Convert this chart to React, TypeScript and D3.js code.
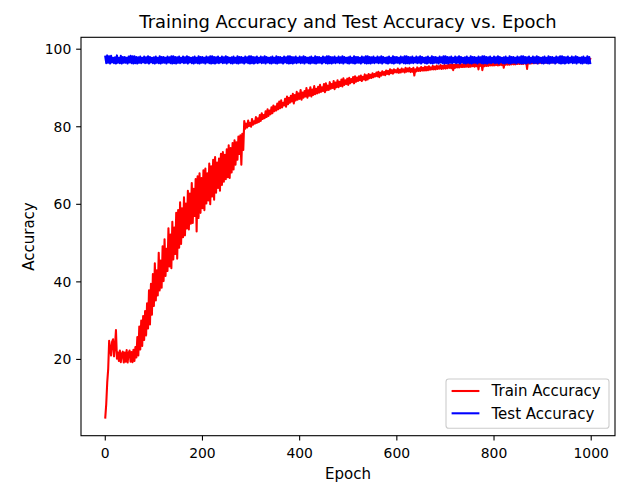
import React from "react";
import * as d3 from "d3";

const EPOCH_STEP = 2;

const trainAccuracy: number[] = [
  5.0, 8.5, 14.0, 17.5, 24.8, 23.0, 21.0, 24.5, 25.2, 20.8,
  23.5, 27.6, 20.2, 21.8, 19.6, 22.3, 19.3, 21.5, 22.0, 19.2,
  21.8, 19.4, 22.4, 19.2, 21.6, 22.3, 19.4, 21.9, 19.3, 22.5,
  19.6, 23.2, 20.5, 25.8, 21.0, 28.5, 22.6, 30.0, 23.5, 31.2,
  25.0, 32.5, 26.2, 34.5, 28.0, 37.8, 29.0, 39.5, 31.5, 42.0,
  33.8, 44.8, 35.2, 43.0, 36.5, 47.5, 37.8, 45.5, 38.5, 49.2,
  40.2, 51.0, 41.5, 48.5, 42.8, 53.8, 44.0, 52.2, 43.5, 55.5,
  45.8, 54.0, 47.2, 57.8, 46.0, 58.5, 48.8, 60.5, 49.8, 59.0,
  51.5, 61.8, 52.0, 60.2, 53.8, 63.5, 53.5, 62.8, 55.0, 65.5,
  55.2, 64.0, 57.0, 66.5, 53.0, 67.2, 56.5, 68.0, 57.8, 66.8,
  59.0, 68.8, 58.5, 69.2, 60.2, 68.0, 61.0, 70.5, 60.0, 69.8,
  62.0, 71.5, 61.2, 72.2, 63.0, 70.8, 64.2, 71.8, 63.5, 73.0,
  65.0, 73.5, 65.8, 72.8, 66.5, 74.2, 67.0, 75.2, 66.8, 74.5,
  68.2, 75.8, 69.0, 76.5, 70.2, 76.0, 71.5, 77.5, 73.0, 77.8,
  70.2, 78.2, 74.0, 81.5, 79.5, 80.8, 79.8, 81.6, 80.2, 81.0,
  80.0, 82.0, 80.5, 81.4, 80.8, 82.5, 81.0, 82.2, 81.2, 83.0,
  81.5, 83.5, 82.0, 83.0, 82.2, 84.0, 82.5, 84.5, 82.8, 84.2,
  83.2, 85.0, 83.5, 85.5, 84.0, 85.2, 84.2, 86.0, 84.5, 86.5,
  84.8, 86.8, 85.0, 86.2, 85.5, 87.2, 85.2, 87.8, 85.8, 87.5,
  86.2, 88.0, 86.5, 88.5, 86.0, 88.2, 86.8, 89.0, 87.0, 88.6,
  87.2, 89.5, 87.0, 88.8, 87.5, 89.2, 87.8, 90.0, 87.5, 89.4,
  88.0, 90.2, 87.8, 89.6, 88.2, 90.5, 88.4, 89.8, 88.6, 90.3,
  88.8, 90.8, 89.0, 90.2, 89.2, 91.0, 88.9, 91.2, 89.4, 90.6,
  89.5, 91.5, 89.8, 91.0, 90.0, 91.8, 89.7, 91.4, 90.2, 92.0,
  90.2, 91.6, 90.5, 92.2, 90.4, 92.5, 90.8, 92.0, 91.0, 92.4,
  90.8, 92.6, 91.2, 92.3, 91.5, 92.8, 91.2, 93.0, 91.6, 92.7,
  91.8, 93.0, 92.0, 93.2, 91.8, 92.9, 92.2, 93.5, 92.0, 93.3,
  92.2, 93.6, 92.5, 93.4, 92.6, 93.8, 92.8, 93.6, 93.0, 94.0,
  93.0, 94.2, 92.8, 93.9, 93.2, 94.3, 93.4, 94.1, 93.3, 94.5,
  93.6, 94.4, 93.5, 94.8, 93.8, 94.6, 93.7, 94.8, 94.0, 94.6,
  94.0, 95.0, 93.9, 94.7, 94.0, 95.0, 94.2, 94.8, 94.0, 95.2,
  94.2, 95.0, 94.3, 95.2, 94.1, 94.9, 94.2, 95.2, 93.2, 94.8,
  94.3, 95.3, 94.4, 95.1, 94.4, 95.4, 94.5, 95.2, 94.5, 95.5,
  94.5, 95.4, 94.6, 95.6, 94.7, 95.3, 94.8, 95.7, 94.8, 95.5,
  94.8, 95.8, 94.9, 95.6, 95.0, 95.9, 94.9, 95.7, 95.0, 96.0,
  95.0, 95.8, 95.1, 96.1, 95.2, 96.0, 95.1, 96.2, 94.6, 96.0,
  95.2, 96.2, 95.3, 96.0, 95.3, 96.3, 95.4, 96.1, 95.4, 96.4,
  95.4, 96.2, 95.5, 96.4, 95.4, 96.5, 95.5, 96.3, 95.6, 96.5,
  95.5, 96.4, 95.6, 96.6, 94.8, 96.5, 95.7, 96.6, 94.6, 96.4,
  95.6, 96.7, 95.7, 96.5, 95.7, 96.7, 95.8, 96.6, 95.8, 96.8,
  95.8, 96.6, 95.9, 96.8, 95.8, 96.7, 95.9, 96.9, 95.9, 96.7,
  95.2, 96.9, 96.0, 96.8, 96.0, 97.0, 96.0, 96.8, 96.1, 97.0,
  96.1, 96.9, 96.1, 97.0, 96.2, 96.9, 96.2, 97.1, 96.2, 97.0,
  96.2, 97.1, 96.3, 97.0, 94.9, 97.1, 96.3, 97.0, 96.3, 97.2,
  96.4, 97.1, 96.4, 97.2, 96.4, 97.1, 96.4, 97.2, 96.5, 97.3,
  96.5, 97.2, 96.5, 97.3, 96.5, 97.2, 96.6, 97.3, 96.6, 97.4,
  96.6, 97.3, 96.6, 97.4, 96.6, 97.3, 96.7, 97.4, 96.7, 97.5,
  96.7, 97.4, 96.7, 97.5, 96.7, 97.4, 96.8, 97.5, 96.8, 97.5,
  96.8, 97.5, 96.8, 97.4, 96.8, 97.5, 96.9, 97.5, 96.9, 97.6,
  96.9, 97.5, 96.9, 97.6, 97.0, 97.5, 97.0, 97.6, 97.0, 97.5,
];

const testAccuracy: number[] = [
  98.1, 96.4, 98.4, 96.5, 98.2, 96.3, 98.3, 96.6, 97.8, 96.4,
  97.9, 96.3, 98.4, 96.5, 97.8, 96.4, 98.3, 96.3, 98.0, 96.5,
  98.0, 96.5, 97.8, 96.3, 98.1, 96.6, 98.3, 96.4, 98.2, 96.3,
  98.2, 96.4, 98.0, 96.3, 97.9, 96.5, 98.1, 96.4, 97.8, 96.6,
  98.1, 96.4, 97.9, 96.5, 98.2, 96.3, 98.0, 96.6, 97.8, 96.4,
  97.9, 96.3, 98.1, 96.5, 97.8, 96.4, 98.2, 96.3, 98.0, 96.5,
  98.0, 96.5, 97.8, 96.3, 98.1, 96.6, 97.9, 96.4, 98.2, 96.3,
  98.2, 96.4, 98.0, 96.3, 97.9, 96.5, 98.1, 96.4, 97.8, 96.6,
  98.1, 96.4, 97.9, 96.5, 98.2, 96.3, 98.0, 96.6, 97.8, 96.4,
  97.9, 96.3, 98.1, 96.5, 97.8, 96.4, 98.2, 96.3, 98.0, 96.5,
  98.0, 96.5, 97.8, 96.3, 98.1, 96.6, 97.9, 96.4, 98.2, 96.3,
  98.2, 96.4, 98.0, 96.3, 97.9, 96.5, 98.1, 96.4, 97.8, 96.6,
  98.1, 96.4, 97.9, 96.5, 98.2, 96.3, 98.0, 96.6, 97.8, 96.4,
  97.9, 96.3, 98.1, 96.5, 97.8, 96.4, 98.2, 96.3, 98.0, 96.5,
  98.0, 96.5, 97.8, 96.3, 98.1, 96.6, 97.9, 96.4, 98.2, 96.3,
  98.2, 96.4, 98.0, 96.3, 97.9, 96.5, 98.1, 96.4, 97.8, 96.6,
  98.1, 96.4, 97.9, 96.5, 98.2, 96.3, 98.0, 96.6, 97.8, 96.4,
  97.9, 96.3, 98.1, 96.5, 97.8, 96.4, 98.2, 96.3, 98.0, 96.5,
  98.0, 96.5, 97.8, 96.3, 98.1, 96.6, 97.9, 96.4, 98.2, 96.3,
  98.2, 96.4, 98.0, 96.3, 97.9, 96.5, 98.1, 96.4, 97.8, 96.6,
  98.1, 96.4, 97.9, 96.5, 98.2, 96.3, 98.0, 96.6, 97.8, 96.4,
  97.9, 96.3, 98.1, 96.5, 97.8, 96.4, 98.2, 96.3, 98.0, 96.5,
  98.0, 96.5, 97.8, 96.3, 98.1, 96.6, 97.9, 96.4, 98.2, 96.3,
  98.2, 96.4, 98.0, 96.3, 97.9, 96.5, 98.1, 96.4, 97.8, 96.6,
  98.1, 96.4, 97.9, 96.5, 98.2, 96.3, 98.0, 96.6, 97.8, 96.4,
  97.9, 96.3, 98.1, 96.5, 97.8, 96.4, 98.2, 96.3, 98.0, 96.5,
  98.0, 96.5, 97.8, 96.3, 98.1, 96.6, 97.9, 96.4, 98.2, 96.3,
  98.2, 96.4, 98.0, 96.3, 97.9, 96.5, 98.1, 96.4, 97.8, 96.6,
  98.1, 96.4, 97.9, 96.5, 98.2, 96.3, 98.0, 96.6, 97.8, 96.4,
  97.9, 96.3, 98.1, 96.5, 97.8, 96.4, 98.2, 96.3, 98.0, 96.5,
  98.0, 96.5, 97.8, 96.3, 98.1, 96.6, 97.9, 96.4, 98.2, 96.3,
  98.2, 96.4, 98.0, 96.3, 97.9, 96.5, 98.1, 96.4, 97.8, 96.6,
  98.1, 96.4, 97.9, 96.5, 98.2, 96.3, 98.0, 96.6, 97.8, 96.4,
  97.9, 96.3, 98.1, 96.5, 97.8, 96.4, 98.2, 96.3, 98.0, 96.5,
  98.0, 96.5, 97.8, 96.3, 98.1, 96.6, 97.9, 96.4, 98.2, 96.3,
  98.2, 96.4, 98.0, 96.3, 97.9, 96.5, 98.1, 96.4, 97.8, 96.6,
  98.1, 96.4, 97.9, 96.5, 98.2, 96.3, 98.0, 96.6, 97.8, 96.4,
  97.9, 96.3, 98.1, 96.5, 97.8, 96.4, 98.2, 96.3, 98.0, 96.5,
  98.0, 96.5, 97.8, 96.3, 98.1, 96.6, 97.9, 96.4, 98.2, 96.3,
  98.2, 96.4, 98.0, 96.3, 97.9, 96.5, 98.1, 96.4, 97.8, 96.6,
  98.1, 96.4, 97.9, 96.5, 98.2, 96.3, 98.0, 96.6, 97.8, 96.4,
  97.9, 96.3, 98.1, 96.5, 97.8, 96.4, 98.2, 96.3, 98.0, 96.5,
  98.0, 96.5, 97.8, 96.3, 98.1, 96.6, 97.9, 96.4, 98.2, 96.3,
  98.2, 96.4, 98.0, 96.3, 97.9, 96.5, 98.1, 96.4, 97.8, 96.6,
  98.1, 96.4, 97.9, 96.5, 98.2, 96.3, 98.0, 96.6, 97.8, 96.4,
  97.9, 96.3, 98.1, 96.5, 97.8, 96.4, 98.2, 96.3, 98.0, 96.5,
  98.0, 96.5, 97.8, 96.3, 98.1, 96.6, 97.9, 96.4, 98.2, 96.3,
  98.2, 96.4, 98.0, 96.3, 97.9, 96.5, 98.1, 96.4, 97.8, 96.6,
  98.1, 96.4, 97.9, 96.5, 98.2, 96.3, 98.0, 96.6, 97.8, 96.4,
  97.9, 96.3, 98.1, 96.5, 97.8, 96.4, 98.2, 96.3, 98.0, 96.4,
];

const xTicks = [0, 200, 400, 600, 800, 1000];
const yTicks = [20, 40, 60, 80, 100];
const seriesNames = ["Train Accuracy", "Test Accuracy"];
const seriesColors = ["#ff0000", "#0000ff"];

const W = 625;
const H = 484;
const left = 81;
const right = 615;
const top = 37.3;
const bottom = 435.7;
const FONT = "'DejaVu Sans', sans-serif";

export default function App() {
  const lastEpoch = 999;
  const xPad = lastEpoch * 0.05;
  const x = d3.scaleLinear().domain([-xPad, lastEpoch + xPad]).range([left, right]);
  const all = trainAccuracy.concat(testAccuracy);
  const [mn, mx] = d3.extent(all) as [number, number];
  const yPad = (mx - mn) * 0.05;
  const y = d3.scaleLinear().domain([mn - yPad, mx + yPad]).range([bottom, top]);

  const line = d3
    .line<number>()
    .x((_, i) => x(i * EPOCH_STEP))
    .y((d) => y(d));

  const series = [trainAccuracy, testAccuracy];
  const tickLen = 4.86;

  return (
    <div style={{ position: "fixed", left: 0, top: 0 }}>
      <svg width={W} height={H} style={{ display: "block", background: "#fff" }}>
        <rect x={0} y={0} width={W} height={H} fill="#fff" />
        <text x={(left + right) / 2} y={28} textAnchor="middle" fontFamily={FONT} fontSize={17.9} fill="#000">
          Training Accuracy and Test Accuracy vs. Epoch
        </text>
        <defs>
          <clipPath id="plotclip">
            <rect x={left} y={top} width={right - left} height={bottom - top} />
          </clipPath>
        </defs>
        <g clipPath="url(#plotclip)">
          {series.map((s, k) => (
            <path key={k} d={line(s) || ""} fill="none" stroke={seriesColors[k]} strokeWidth={2.08} strokeLinejoin="round" strokeLinecap="square" />
          ))}
        </g>
        <rect x={left} y={top} width={right - left} height={bottom - top} fill="none" stroke="#000" strokeWidth={1.1} />
        {xTicks.map((t) => (
          <g key={"x" + t}>
            <line x1={x(t)} x2={x(t)} y1={bottom} y2={bottom + tickLen} stroke="#000" strokeWidth={1.1} />
            <text x={x(t)} y={458.3} textAnchor="middle" fontFamily={FONT} fontSize={13.9} fill="#000">
              {t}
            </text>
          </g>
        ))}
        {yTicks.map((t) => (
          <g key={"y" + t}>
            <line x1={left - tickLen} x2={left} y1={y(t)} y2={y(t)} stroke="#000" strokeWidth={1.1} />
            <text x={71.3} y={y(t)} dy="0.36em" textAnchor="end" fontFamily={FONT} fontSize={13.9} fill="#000">
              {t}
            </text>
          </g>
        ))}
        <text x={(left + right) / 2} y={478.5} textAnchor="middle" fontFamily={FONT} fontSize={15} fill="#000">
          Epoch
        </text>
        <text
          transform={`translate(33.5, ${(top + bottom) / 2}) rotate(-90)`}
          textAnchor="middle"
          fontFamily={FONT}
          fontSize={15}
          fill="#000"
        >
          Accuracy
        </text>
        <rect x={446} y={379} width={163} height={49.3} rx={2.8} ry={2.8} fill="#fff" fillOpacity={0.8} stroke="#cccccc" strokeWidth={1.1} />
        {seriesNames.map((n, k) => {
          const ly = 391 + k * 22.3;
          return (
            <g key={n}>
              <line x1={451.6} x2={479.4} y1={ly} y2={ly} stroke={seriesColors[k]} strokeWidth={2.08} />
              <text x={491.5} y={ly} dy="0.36em" fontFamily={FONT} fontSize={15} fill="#000">
                {n}
              </text>
            </g>
          );
        })}
      </svg>
    </div>
  );
}
